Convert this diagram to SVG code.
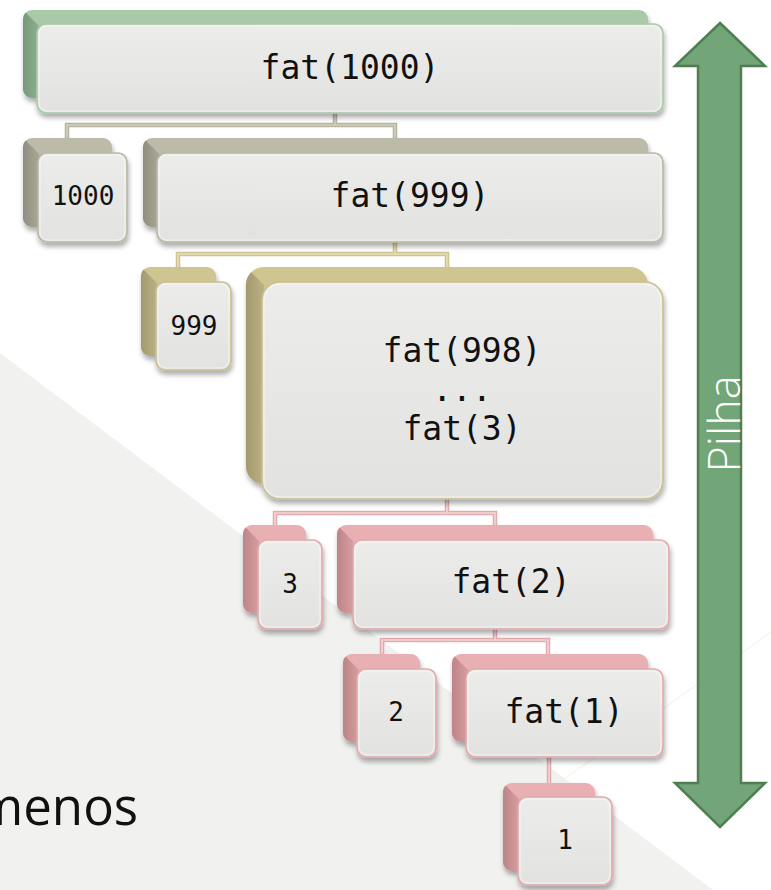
<svg xmlns="http://www.w3.org/2000/svg" width="771" height="890" viewBox="0 0 771 890">
  <defs>
    <filter id="drop" x="-10%" y="-10%" width="125%" height="135%">
      <feDropShadow dx="1" dy="4" stdDeviation="2.5" flood-color="#000" flood-opacity="0.32"/>
    </filter>
    <linearGradient id="face" x1="0" y1="0" x2="0" y2="1">
      <stop offset="0" stop-color="#ececea"/>
      <stop offset="1" stop-color="#e2e2e0"/>
    </linearGradient>
    <linearGradient id="side-green" x1="0" y1="0" x2="1" y2="0">
      <stop offset="0" stop-color="#76997a"/>
      <stop offset="1" stop-color="#8db090"/>
    </linearGradient>
    <linearGradient id="side-gray" x1="0" y1="0" x2="1" y2="0">
      <stop offset="0" stop-color="#908e80"/>
      <stop offset="1" stop-color="#a9a795"/>
    </linearGradient>
    <linearGradient id="side-khaki" x1="0" y1="0" x2="1" y2="0">
      <stop offset="0" stop-color="#a29a6e"/>
      <stop offset="1" stop-color="#bab184"/>
    </linearGradient>
    <linearGradient id="side-pink" x1="0" y1="0" x2="1" y2="0">
      <stop offset="0" stop-color="#bd8587"/>
      <stop offset="1" stop-color="#d69d9f"/>
    </linearGradient>
  </defs>
  <style>
    .front { fill: url(#face); stroke-width: 1.6; }
    .gloss { fill: none; stroke: #ffffff; stroke-opacity: 0.55; stroke-width: 1; }
    .green .back { fill: #a8caa9; }
    .green .side { fill: url(#side-green); }
    .green .front { stroke: #a6c9a7; }
    .gray .back { fill: #bcbaa8; }
    .gray .side { fill: url(#side-gray); }
    .gray .front { stroke: #b9b6a1; }
    .khaki .back { fill: #cfc591; }
    .khaki .side { fill: url(#side-khaki); }
    .khaki .front { stroke: #c8bf8e; }
    .pink .back { fill: #e8b0b2; }
    .pink .side { fill: url(#side-pink); }
    .pink .front { stroke: #e2a8aa; }
    .label { font-family: "DejaVu Sans Mono", "Liberation Mono", monospace; fill: #111111; text-anchor: middle; }
    .big { font-size: 33px; }
    .small { font-size: 26px; }
    .wire-o { fill: none; stroke-width: 4.5; }
    .wire-i { fill: none; stroke-width: 1.6; }
    .w-gray .wire-o { stroke: #b7b4a0; }
    .w-gray .wire-i { stroke: #d3d0bf; }
    .w-khaki .wire-o { stroke: #cfc48f; }
    .w-khaki .wire-i { stroke: #e6dfbb; }
    .w-pink .wire-o { stroke: #e3aaad; }
    .w-pink .wire-i { stroke: #f3d6d7; }
  </style>

  <!-- backdrop -->
  <rect x="0" y="0" width="771" height="890" fill="#ffffff"/>
  <polygon points="0,353 713,890 0,890" fill="#f1f1ef"/>
  <line x1="771" y1="632" x2="560" y2="782" stroke="#f4efe3" stroke-width="1"/>
  <text x="-24" y="825" font-family="'Open Sans', 'Noto Sans', sans-serif" font-size="51" fill="#111111">menos</text>

  <!-- tree connectors -->
  <g id="connectors">
    <g class="w-gray">
      <path class="wire-o" d="M335,113 V125 M67,138 V125 H395 V138"/>
      <path class="wire-i" d="M335,113 V125 M67,138 V125 H395 V138"/>
    </g>
    <g class="w-khaki">
      <path class="wire-o" d="M395,242 V254 M178,267 V254 H447 V267"/>
      <path class="wire-i" d="M395,242 V254 M178,267 V254 H447 V267"/>
    </g>
    <g class="w-pink">
      <path class="wire-o" d="M447,499 V513 M275,525 V513 H495 V525"/>
      <path class="wire-i" d="M447,499 V513 M275,525 V513 H495 V525"/>
      <path class="wire-o" d="M495,629 V640 M382,654 V640 H548 V654"/>
      <path class="wire-i" d="M495,629 V640 M382,654 V640 H548 V654"/>
      <path class="wire-o" d="M549,757 V783"/>
      <path class="wire-i" d="M549,757 V783"/>
    </g>
  </g>

  <!-- call frames -->
  <g id="node-fat1000" class="green">
    <g filter="url(#drop)">
      <rect class="back" x="23" y="10" width="625" height="88" rx="9"/>
      <path class="side" d="M25.6,12.6 L39,26 V98 H32 A9 9 0 0 1 23,89 V19 A9 9 0 0 1 25.6,12.6 Z"/>
      <rect class="front" x="37" y="24" width="626" height="89" rx="9"/>
      <rect class="gloss" x="39" y="26" width="622" height="85" rx="8"/>
    </g>
    <text class="label big" x="350" y="79">fat(1000)</text>
  </g>

  <g id="node-1000" class="gray">
    <g filter="url(#drop)">
      <rect class="back" x="23" y="138" width="89" height="89" rx="9"/>
      <path class="side" d="M25.6,140.6 L39,154 V227 H32 A9 9 0 0 1 23,218 V147 A9 9 0 0 1 25.6,140.6 Z"/>
      <rect class="front" x="38" y="153" width="89" height="89" rx="9"/>
      <rect class="gloss" x="40" y="155" width="85" height="85" rx="8"/>
    </g>
    <text class="label small" x="83" y="205">1000</text>
  </g>

  <g id="node-fat999" class="gray">
    <g filter="url(#drop)">
      <rect class="back" x="143" y="138" width="505" height="89" rx="9"/>
      <path class="side" d="M145.6,140.6 L159,154 V227 H152 A9 9 0 0 1 143,218 V147 A9 9 0 0 1 145.6,140.6 Z"/>
      <rect class="front" x="157" y="153" width="506" height="89" rx="9"/>
      <rect class="gloss" x="159" y="155" width="502" height="85" rx="8"/>
    </g>
    <text class="label big" x="410" y="207">fat(999)</text>
  </g>

  <g id="node-999" class="khaki">
    <g filter="url(#drop)">
      <rect class="back" x="141" y="267" width="75" height="89" rx="9"/>
      <path class="side" d="M143.6,269.6 L157,283 V356 H150 A9 9 0 0 1 141,347 V276 A9 9 0 0 1 143.6,269.6 Z"/>
      <rect class="front" x="156" y="282" width="75" height="88" rx="9"/>
      <rect class="gloss" x="158" y="284" width="71" height="84" rx="8"/>
    </g>
    <text class="label small" x="194" y="335">999</text>
  </g>

  <g id="node-fat998-3" class="khaki">
    <g filter="url(#drop)">
      <rect class="back" x="246" y="267" width="402" height="217" rx="18"/>
      <path class="side" d="M251.3,272.3 L264,285 V484 A18 18 0 0 1 246,466 V285 A18 18 0 0 1 251.3,272.3 Z"/>
      <rect class="front" x="262" y="282" width="401" height="217" rx="18"/>
      <rect class="gloss" x="264" y="284" width="397" height="213" rx="16"/>
    </g>
    <text class="label big" x="462" y="362">fat(998)</text>
    <text class="label big" x="462" y="401">...</text>
    <text class="label big" x="462" y="440">fat(3)</text>
  </g>

  <g id="node-3" class="pink">
    <g filter="url(#drop)">
      <rect class="back" x="243" y="525" width="63" height="88" rx="9"/>
      <path class="side" d="M245.6,527.6 L259,541 V613 H252 A9 9 0 0 1 243,604 V534 A9 9 0 0 1 245.6,527.6 Z"/>
      <rect class="front" x="258" y="540" width="64" height="89" rx="9"/>
      <rect class="gloss" x="260" y="542" width="60" height="85" rx="8"/>
    </g>
    <text class="label small" x="290" y="593">3</text>
  </g>

  <g id="node-fat2" class="pink">
    <g filter="url(#drop)">
      <rect class="back" x="337" y="525" width="316" height="88" rx="9"/>
      <path class="side" d="M339.6,527.6 L353,541 V613 H346 A9 9 0 0 1 337,604 V534 A9 9 0 0 1 339.6,527.6 Z"/>
      <rect class="front" x="353" y="540" width="316" height="89" rx="9"/>
      <rect class="gloss" x="355" y="542" width="312" height="85" rx="8"/>
    </g>
    <text class="label big" x="511" y="593">fat(2)</text>
  </g>

  <g id="node-2" class="pink">
    <g filter="url(#drop)">
      <rect class="back" x="343" y="654" width="77" height="88" rx="9"/>
      <path class="side" d="M345.6,656.6 L359,670 V742 H352 A9 9 0 0 1 343,733 V663 A9 9 0 0 1 345.6,656.6 Z"/>
      <rect class="front" x="357" y="669" width="79" height="88" rx="9"/>
      <rect class="gloss" x="359" y="671" width="75" height="84" rx="8"/>
    </g>
    <text class="label small" x="396" y="721">2</text>
  </g>

  <g id="node-fat1" class="pink">
    <g filter="url(#drop)">
      <rect class="back" x="452" y="654" width="196" height="88" rx="9"/>
      <path class="side" d="M454.6,656.6 L468,670 V742 H461 A9 9 0 0 1 452,733 V663 A9 9 0 0 1 454.6,656.6 Z"/>
      <rect class="front" x="466" y="669" width="197" height="88" rx="9"/>
      <rect class="gloss" x="468" y="671" width="193" height="84" rx="8"/>
    </g>
    <text class="label big" x="564" y="723">fat(1)</text>
  </g>

  <g id="node-1" class="pink">
    <g filter="url(#drop)">
      <rect class="back" x="503" y="783" width="92" height="88" rx="9"/>
      <path class="side" d="M505.6,785.6 L519,799 V871 H512 A9 9 0 0 1 503,862 V792 A9 9 0 0 1 505.6,785.6 Z"/>
      <rect class="front" x="518" y="797" width="94" height="88" rx="9"/>
      <rect class="gloss" x="520" y="799" width="90" height="84" rx="8"/>
    </g>
    <text class="label small" x="565" y="849">1</text>
  </g>

  <!-- stack arrow -->
  <g id="stack-arrow">
    <polygon points="720,23 765,66 741,66 741,783 765,783 720,827 675,783 698,783 698,66 675,66"
             fill="#72a577" stroke="#4f7e53" stroke-width="2.5" stroke-linejoin="miter"/>
    <text transform="translate(740,424) rotate(-90)" x="0" y="0" text-anchor="middle"
          font-family="'Open Sans', 'Noto Sans', sans-serif" font-weight="300" font-size="45" fill="#ffffff">Pilha</text>
  </g>
</svg>
